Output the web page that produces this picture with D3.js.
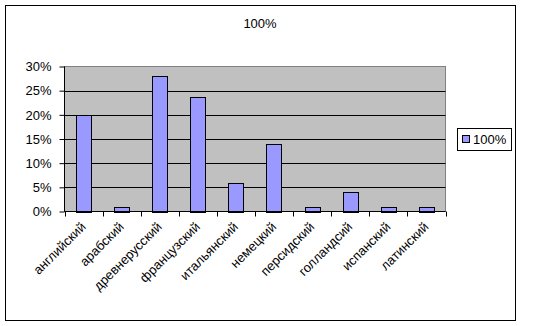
<!DOCTYPE html>
<html>
<head>
<meta charset="utf-8">
<script src="https://cdn.jsdelivr.net/npm/d3@7"></script>
<style>
  body { margin: 0; background: #fff; }
  text { font-family: "Liberation Sans", Arial, sans-serif; }
</style>
</head>
<body>
<svg id="chart" width="535" height="326"></svg>
<script>
// data
var languages = ["английский", "арабский", "древнерусский", "французский", "итальянский",
                 "немецкий", "персидский", "голландсий", "испанский", "латинский"];
var shares = [0.20, 0.01, 0.28, 0.236, 0.06, 0.14, 0.01, 0.04, 0.01, 0.01];
var yTicks = [0, 0.05, 0.10, 0.15, 0.20, 0.25, 0.30];
var seriesName = "100%";

var svg = d3.select("#chart");
var margin = {top: 66.5, left: 64.5, right: 445.5, bottom: 211.5};

// outer chart frame
svg.append("rect")
    .attr("x", 5.5).attr("y", 5.5)
    .attr("width", 510).attr("height", 315)
    .attr("fill", "#fff").attr("stroke", "#000");

svg.append("text")
    .attr("x", 260).attr("y", 28)
    .attr("text-anchor", "middle")
    .attr("font-size", "13px")
    .text(seriesName);

var x = d3.scaleBand()
    .domain(languages)
    .range([margin.left, margin.right])
    .paddingInner(0.6).paddingOuter(0.3);

var band = d3.scaleBand().domain(languages).range([margin.left, margin.right]);

var y = d3.scaleLinear()
    .domain([0, 0.30])
    .range([margin.bottom, margin.top]);

// plot area
svg.append("rect")
    .attr("x", margin.left).attr("y", margin.top)
    .attr("width", margin.right - margin.left)
    .attr("height", margin.bottom - margin.top)
    .attr("fill", "#c0c0c0").attr("stroke", "#808080");

// gridlines
svg.append("g")
    .selectAll("line")
    .data(yTicks.filter(function(d) { return d > 0 && d < 0.30; }))
    .join("line")
    .attr("x1", margin.left).attr("x2", margin.right)
    .attr("y1", function(d) { return Math.round(y(d)) + 0.5; })
    .attr("y2", function(d) { return Math.round(y(d)) + 0.5; })
    .attr("stroke", "#000");

// bars
svg.append("g")
    .selectAll("rect")
    .data(shares)
    .join("rect")
    .attr("x", function(d, i) { return Math.round(x(languages[i])) + 0.5; })
    .attr("y", function(d) { return Math.round(y(d)) + 0.5; })
    .attr("width", Math.round(x.bandwidth()))
    .attr("height", function(d) { return Math.round(y(0)) - Math.round(y(d)); })
    .attr("fill", "#9999ff")
    .attr("stroke", "#000");

// y axis
var yAxis = svg.append("g")
    .attr("transform", "translate(" + margin.left + ",0)")
    .call(d3.axisLeft(y).tickValues(yTicks).tickSize(5).tickPadding(8)
        .tickFormat(d3.format(".0%")));
yAxis.selectAll("text").attr("font-size", "13px").attr("fill", "#000")
    .attr("font-family", "Liberation Sans, Arial, sans-serif");
yAxis.selectAll("line, path").attr("stroke", "#000");
yAxis.select(".domain").attr("d", "M0," + margin.top + "V" + margin.bottom);

// x axis: ticks on category boundaries
var xg = svg.append("g");
xg.append("line")
    .attr("x1", margin.left).attr("x2", margin.right)
    .attr("y1", margin.bottom).attr("y2", margin.bottom)
    .attr("stroke", "#000");
xg.selectAll("line.tick")
    .data(languages.concat(["end"]))
    .join("line")
    .attr("class", "tick")
    .attr("x1", function(d, i) { return Math.round(margin.left + i * band.bandwidth()) + 0.5; })
    .attr("x2", function(d, i) { return Math.round(margin.left + i * band.bandwidth()) + 0.5; })
    .attr("y1", margin.bottom).attr("y2", margin.bottom + 5)
    .attr("stroke", "#000");

xg.selectAll("text")
    .data(languages)
    .join("text")
    .attr("text-anchor", "end")
    .attr("font-size", "13px")
    .attr("transform", function(d) {
        var cx = band(d) + band.bandwidth() / 2 + 3;
        return "translate(" + cx + "," + (margin.bottom + 16) + ") rotate(-45)";
    })
    .text(function(d) { return d; });

// legend
var legend = svg.append("g");
legend.append("rect")
    .attr("x", 457.5).attr("y", 128.5)
    .attr("width", 54).attr("height", 22)
    .attr("fill", "#fff").attr("stroke", "#000");
legend.append("rect")
    .attr("x", 462.5).attr("y", 135.5)
    .attr("width", 7).attr("height", 7)
    .attr("fill", "#9999ff").attr("stroke", "#000");
legend.append("text")
    .attr("x", 473).attr("y", 144)
    .attr("font-size", "13px")
    .text(seriesName);
</script>
</body>
</html>
